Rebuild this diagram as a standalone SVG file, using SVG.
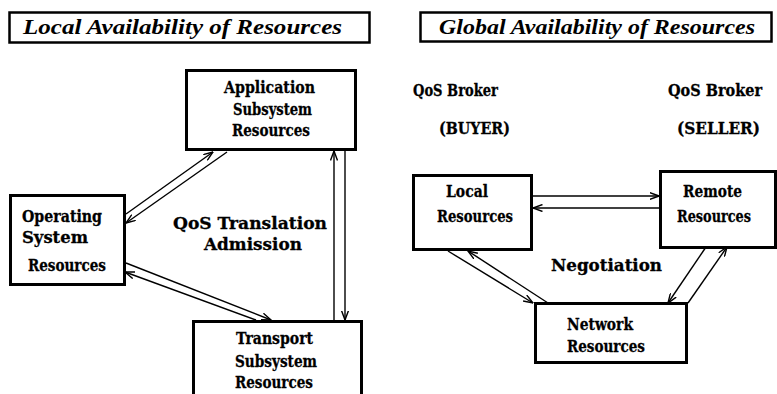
<svg xmlns="http://www.w3.org/2000/svg" width="777" height="394" viewBox="0 0 777 394">
  <style>
    .box { fill: #fff; stroke: #000; stroke-width: 3; }
    .title { fill: #fff; stroke: #000; stroke-width: 2.5; }
    .t { font-family: "DejaVu Serif", "Liberation Serif", serif; font-weight: bold; font-size: 17px; fill: #000; stroke: #000; stroke-width: 0.3; }
    .h { font-family: "Liberation Serif", "Times New Roman", serif; font-weight: bold; font-style: italic; font-size: 20px; fill: #000; }
    .c { stroke: #000; stroke-width: 1.4; fill: none; marker-end: url(#arr); }
  </style>
  <defs>
    <marker id="arr" viewBox="0 0 10 8" refX="9.5" refY="4" markerWidth="10" markerHeight="8" markerUnits="userSpaceOnUse" orient="auto">
      <path d="M0,0.5 L9.5,4 L0,7.5" fill="none" stroke="#000" stroke-width="1.4"/>
    </marker>
  </defs>

  <!-- left panel heading -->
  <g id="title-local">
    <rect class="title" x="9.5" y="12.5" width="360" height="30"/>
    <text class="h" x="23" y="34" textLength="319" lengthAdjust="spacingAndGlyphs">Local  Availability of Resources</text>
  </g>

  <!-- right panel heading -->
  <g id="title-global">
    <rect class="title" x="420.5" y="12.5" width="351" height="29"/>
    <text class="h" x="439" y="34" textLength="316" lengthAdjust="spacingAndGlyphs">Global Availability of Resources</text>
  </g>

  <!-- connectors -->
  <g id="connectors">
    <!-- application / operating system -->
    <line class="c" x1="126" y1="214" x2="213" y2="152"/>
    <line class="c" x1="227" y1="152" x2="126" y2="223"/>
    <!-- operating system / transport -->
    <line class="c" x1="126" y1="263" x2="271" y2="320"/>
    <line class="c" x1="256" y1="320" x2="125" y2="272"/>
    <!-- application / transport -->
    <line class="c" x1="334" y1="320" x2="334" y2="151"/>
    <line class="c" x1="345" y1="151" x2="345" y2="320"/>
    <!-- local / remote -->
    <line class="c" x1="532" y1="196" x2="659" y2="196"/>
    <line class="c" x1="660" y1="208" x2="533" y2="208"/>
    <!-- local / network -->
    <line class="c" x1="448" y1="251" x2="533" y2="303"/>
    <line class="c" x1="548" y1="303" x2="468" y2="251"/>
    <!-- remote / network -->
    <line class="c" x1="706" y1="247" x2="668" y2="303"/>
    <line class="c" x1="688" y1="303" x2="727" y2="247"/>
  </g>

  <g id="application">
    <rect class="box" x="186.5" y="70.5" width="169" height="79"/>
    <text class="t" x="224" y="93" textLength="91" lengthAdjust="spacingAndGlyphs">Application</text>
    <text class="t" x="233" y="115" textLength="79" lengthAdjust="spacingAndGlyphs">Subsystem</text>
    <text class="t" x="232" y="136" textLength="78" lengthAdjust="spacingAndGlyphs">Resources</text>
  </g>

  <g id="operating-system">
    <rect class="box" x="10.5" y="195.5" width="114" height="89"/>
    <text class="t" x="22" y="222" textLength="80" lengthAdjust="spacingAndGlyphs">Operating</text>
    <text class="t" x="22" y="243" textLength="66" lengthAdjust="spacingAndGlyphs">System</text>
    <text class="t" x="28" y="271" textLength="78" lengthAdjust="spacingAndGlyphs">Resources</text>
  </g>

  <g id="transport">
    <rect class="box" x="193.5" y="321.5" width="168" height="90"/>
    <text class="t" x="236" y="344" textLength="77" lengthAdjust="spacingAndGlyphs">Transport</text>
    <text class="t" x="235" y="367" textLength="82" lengthAdjust="spacingAndGlyphs">Subsystem</text>
    <text class="t" x="235" y="388" textLength="78" lengthAdjust="spacingAndGlyphs">Resources</text>
  </g>

  <g id="label-translation">
    <text class="t" x="173" y="229" textLength="154" lengthAdjust="spacingAndGlyphs">QoS Translation</text>
    <text class="t" x="204" y="250" textLength="98" lengthAdjust="spacingAndGlyphs">Admission</text>
  </g>

  <g id="label-buyer">
    <text class="t" x="413" y="96" textLength="85" lengthAdjust="spacingAndGlyphs">QoS Broker</text>
    <text class="t" x="439" y="134" textLength="71" lengthAdjust="spacingAndGlyphs">(BUYER)</text>
  </g>

  <g id="label-seller">
    <text class="t" x="668" y="96" font-size="16" textLength="94" lengthAdjust="spacingAndGlyphs">QoS Broker</text>
    <text class="t" x="677" y="134" textLength="83" lengthAdjust="spacingAndGlyphs">(SELLER)</text>
  </g>

  <g id="local-resources">
    <rect class="box" x="413.5" y="175.5" width="118" height="74"/>
    <text class="t" x="446" y="197" textLength="42" lengthAdjust="spacingAndGlyphs">Local</text>
    <text class="t" x="437" y="222" textLength="76" lengthAdjust="spacingAndGlyphs">Resources</text>
  </g>

  <g id="remote-resources">
    <rect class="box" x="660.5" y="171.5" width="115" height="76"/>
    <text class="t" x="683" y="197" textLength="59" lengthAdjust="spacingAndGlyphs">Remote</text>
    <text class="t" x="677" y="222" textLength="74" lengthAdjust="spacingAndGlyphs">Resources</text>
  </g>

  <g id="network-resources">
    <rect class="box" x="535.5" y="303.5" width="151" height="59"/>
    <text class="t" x="567" y="330" textLength="66" lengthAdjust="spacingAndGlyphs">Network</text>
    <text class="t" x="567" y="352" textLength="78" lengthAdjust="spacingAndGlyphs">Resources</text>
  </g>

  <g id="label-negotiation">
    <text class="t" x="551" y="271" textLength="111" lengthAdjust="spacingAndGlyphs">Negotiation</text>
  </g>
</svg>
